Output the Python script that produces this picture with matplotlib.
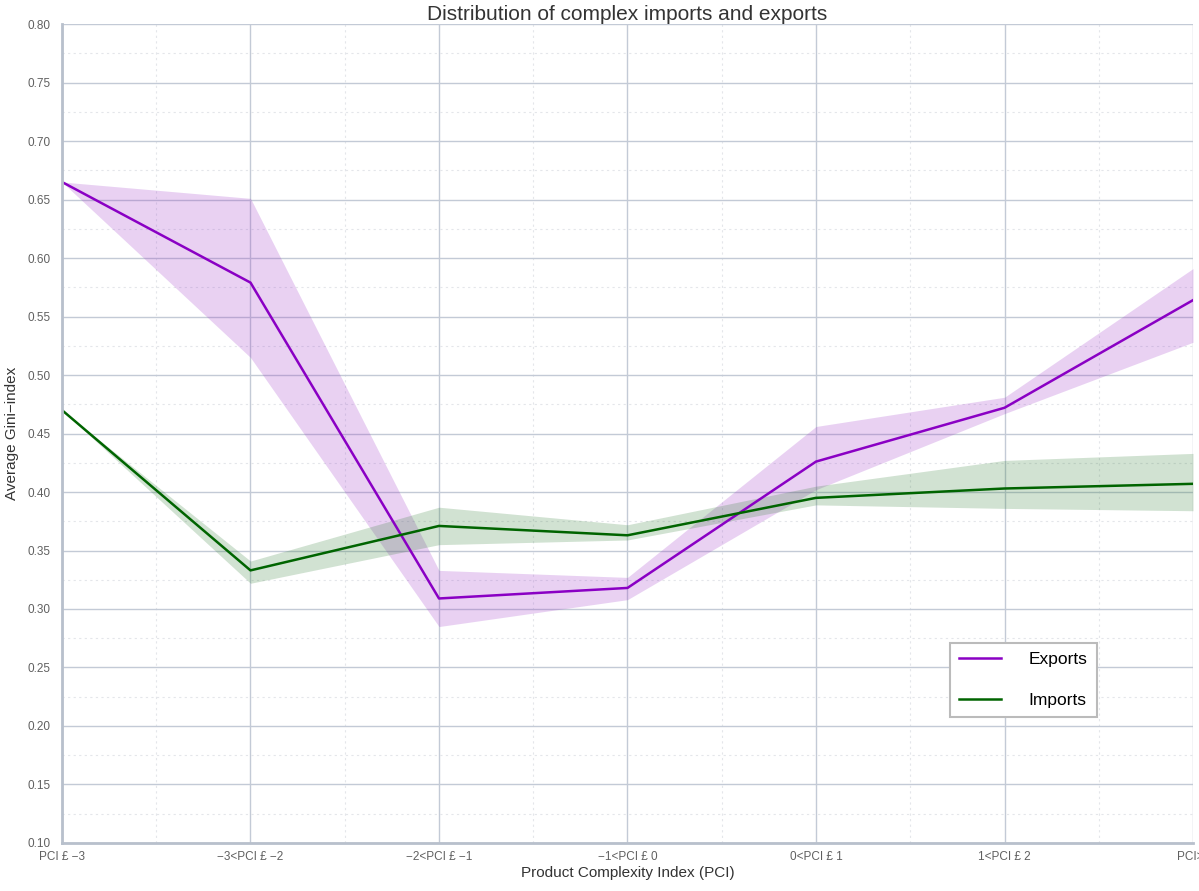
import matplotlib
matplotlib.use('Agg')
import matplotlib.pyplot as plt
from matplotlib.ticker import MultipleLocator

plt.rcParams['font.family'] = ['Liberation Sans', 'DejaVu Sans']

# categorias do eixo x
categorias = ['PCI £ −3', '−3<PCI £ −2', '−2<PCI £ −1', '−1<PCI £ 0',
              '0<PCI £ 1', '1<PCI £ 2', 'PCI>3']

# exportações
exp_media = [0.665, 0.579, 0.309, 0.318, 0.426, 0.472, 0.564]
exp_inf = [0.665, 0.515, 0.285, 0.308, 0.402, 0.467, 0.528]
exp_sup = [0.665, 0.651, 0.333, 0.327, 0.456, 0.481, 0.591]

# importações
imp_media = [0.470, 0.333, 0.371, 0.363, 0.395, 0.403, 0.407]
imp_inf = [0.470, 0.322, 0.355, 0.359, 0.389, 0.386, 0.384]
imp_sup = [0.470, 0.341, 0.387, 0.372, 0.405, 0.427, 0.433]

x = list(range(len(categorias)))

fig = plt.figure(figsize=(11.99, 8.91), dpi=100)
ax = fig.add_axes([0.0517, 0.0539, 0.9433, 0.9191])

cor_exp = '#8a00c4'
cor_imp = '#006400'

ax.fill_between(x, exp_inf, exp_sup, color='#9b30c8', alpha=0.22, linewidth=0)
ax.fill_between(x, imp_inf, imp_sup, color='#2e7d32', alpha=0.22, linewidth=0)
ax.plot(x, exp_media, color=cor_exp, linewidth=1.8, label='Exports')
ax.plot(x, imp_media, color=cor_imp, linewidth=1.8, label='Imports')

ax.set_xlim(0, 6)
ax.set_ylim(0.10, 0.80)
ax.set_xticks(x)
ax.set_xticklabels(categorias)
ax.xaxis.set_minor_locator(MultipleLocator(0.5))
ax.yaxis.set_major_locator(MultipleLocator(0.05))
ax.yaxis.set_minor_locator(MultipleLocator(0.025))
ax.yaxis.set_major_formatter(matplotlib.ticker.FormatStrFormatter('%.2f'))

ax.grid(True, which='major', color='#c3cad6', linewidth=1.0)
ax.grid(True, which='minor', color='#e4e6ea', linewidth=0.8, linestyle=(0, (2, 3)))
ax.set_axisbelow(True)

for lado in ['top', 'right']:
    ax.spines[lado].set_visible(False)
for lado in ['left', 'bottom']:
    ax.spines[lado].set_color('#b8c0cc')
    ax.spines[lado].set_linewidth(2)

ax.tick_params(which='both', length=0, labelsize=8.5, labelcolor='#606060')
ax.tick_params(axis='x', pad=6)
ax.tick_params(axis='y', pad=8)

ax.set_title('Distribution of complex imports and exports', fontsize=15,
             color='#333333', pad=-6)
ax.set_xlabel('Product Complexity Index (PCI)', fontsize=11, color='#333333', labelpad=2)
ax.set_ylabel('Average Gini−index', fontsize=11, color='#333333', labelpad=6)

leg = ax.legend(loc='lower right', bbox_to_anchor=(0.923, 0.143), fontsize=12.5,
                fancybox=False, edgecolor='#bbbbbb', framealpha=1,
                handlelength=2.4, borderpad=0.55, labelspacing=1.45, handletextpad=1.6)
leg.get_frame().set_linewidth(1.5)

fig.savefig('out.png', dpi=100)
